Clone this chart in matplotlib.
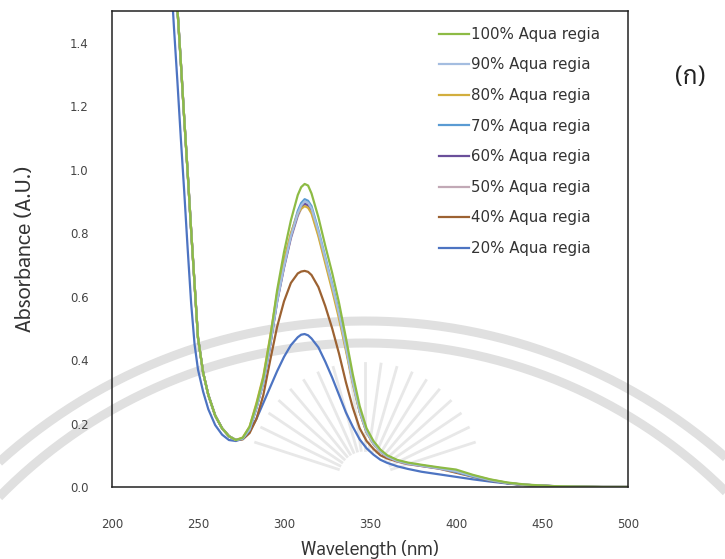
import matplotlib
matplotlib.use("Agg")
import matplotlib.pyplot as plt
import numpy as np

# wavelength grid (nm) shared by all spectra
wavelength = [232, 236, 238, 240, 242, 244, 246, 248, 250, 253, 256, 260, 264, 268, 272,
              276, 280, 284, 288, 292, 296, 300, 304, 308, 310, 312, 314, 316, 320, 324,
              328, 332, 336, 340, 344, 348, 352, 356, 360, 366, 372, 380, 390, 400, 410,
              420, 430, 440, 455, 470, 485, 500]

# absorbance for each aqua regia concentration
abs_100 = [2.05, 1.68, 1.51, 1.34, 1.16, 0.99, 0.81, 0.64, 0.47, 0.36, 0.29, 0.225, 0.185, 0.16, 0.148,
           0.155, 0.19, 0.26, 0.345, 0.47, 0.62, 0.74, 0.84, 0.92, 0.945, 0.955, 0.95, 0.925, 0.85, 0.76,
           0.675, 0.58, 0.47, 0.355, 0.255, 0.185, 0.145, 0.118, 0.10, 0.085, 0.077, 0.07, 0.062, 0.055, 0.038,
           0.024, 0.014, 0.008, 0.003, 0.001, 0.0, 0.0]
abs_90 = [2.05, 1.68, 1.51, 1.34, 1.16, 0.99, 0.81, 0.64, 0.47, 0.36, 0.29, 0.225, 0.185, 0.16, 0.148,
          0.153, 0.182, 0.25, 0.33, 0.45, 0.585, 0.695, 0.79, 0.862, 0.887, 0.90, 0.895, 0.878, 0.805, 0.72,
          0.635, 0.545, 0.44, 0.33, 0.238, 0.174, 0.137, 0.112, 0.096, 0.082, 0.074, 0.067, 0.059, 0.05, 0.035,
          0.022, 0.013, 0.007, 0.003, 0.001, 0.0, 0.0]
abs_80 = [2.05, 1.68, 1.51, 1.34, 1.16, 0.99, 0.81, 0.64, 0.47, 0.36, 0.29, 0.225, 0.185, 0.16, 0.148,
          0.156, 0.19, 0.265, 0.35, 0.475, 0.61, 0.715, 0.80, 0.862, 0.877, 0.885, 0.88, 0.862, 0.79, 0.705,
          0.62, 0.53, 0.43, 0.325, 0.235, 0.172, 0.136, 0.112, 0.097, 0.083, 0.075, 0.068, 0.06, 0.051, 0.036,
          0.023, 0.013, 0.007, 0.003, 0.001, 0.0, 0.0]
abs_70 = [2.05, 1.68, 1.51, 1.34, 1.16, 0.99, 0.81, 0.64, 0.47, 0.36, 0.29, 0.225, 0.185, 0.16, 0.148,
          0.152, 0.18, 0.25, 0.33, 0.45, 0.59, 0.70, 0.795, 0.87, 0.895, 0.907, 0.902, 0.885, 0.81, 0.725,
          0.64, 0.55, 0.445, 0.335, 0.24, 0.175, 0.138, 0.113, 0.097, 0.083, 0.075, 0.068, 0.06, 0.048, 0.033,
          0.021, 0.012, 0.007, 0.003, 0.001, 0.0, 0.0]
abs_60 = [2.05, 1.68, 1.51, 1.34, 1.16, 0.99, 0.81, 0.64, 0.47, 0.36, 0.29, 0.225, 0.185, 0.16, 0.148,
          0.153, 0.182, 0.25, 0.33, 0.448, 0.585, 0.693, 0.787, 0.858, 0.882, 0.893, 0.888, 0.872, 0.80, 0.716,
          0.632, 0.543, 0.44, 0.332, 0.238, 0.174, 0.137, 0.112, 0.096, 0.082, 0.074, 0.067, 0.059, 0.049, 0.034,
          0.021, 0.012, 0.007, 0.003, 0.001, 0.0, 0.0]
abs_50 = [2.05, 1.68, 1.51, 1.34, 1.16, 0.99, 0.81, 0.64, 0.47, 0.36, 0.29, 0.225, 0.185, 0.16, 0.148,
          0.153, 0.182, 0.25, 0.33, 0.447, 0.583, 0.69, 0.783, 0.853, 0.877, 0.888, 0.883, 0.867, 0.795, 0.712,
          0.628, 0.54, 0.437, 0.33, 0.237, 0.173, 0.136, 0.111, 0.095, 0.081, 0.073, 0.066, 0.058, 0.048, 0.034,
          0.021, 0.012, 0.007, 0.003, 0.001, 0.0, 0.0]
abs_40 = [2.05, 1.68, 1.51, 1.34, 1.16, 0.99, 0.81, 0.64, 0.47, 0.36, 0.29, 0.225, 0.185, 0.16, 0.148,
          0.15, 0.17, 0.215, 0.29, 0.40, 0.505, 0.585, 0.643, 0.673, 0.679, 0.681, 0.678, 0.668, 0.63, 0.57,
          0.50, 0.42, 0.33, 0.25, 0.185, 0.145, 0.12, 0.10, 0.09, 0.08, 0.072, 0.066, 0.058, 0.045, 0.032,
          0.02, 0.012, 0.006, 0.003, 0.001, 0.0, 0.0]
abs_20 = [1.82, 1.45, 1.28, 1.10, 0.93, 0.75, 0.58, 0.45, 0.37, 0.30, 0.245, 0.195, 0.165, 0.148, 0.145,
          0.152, 0.175, 0.215, 0.265, 0.315, 0.365, 0.41, 0.447, 0.472, 0.48, 0.482, 0.478, 0.468, 0.44, 0.395,
          0.345, 0.29, 0.235, 0.19, 0.15, 0.122, 0.102, 0.086, 0.076, 0.065, 0.057, 0.048, 0.04, 0.032, 0.024,
          0.017, 0.011, 0.006, 0.003, 0.001, 0.0, 0.0]

labels = ['100% Aqua regia', '90% Aqua regia', '80% Aqua regia', '70% Aqua regia',
          '60% Aqua regia', '50% Aqua regia', '40% Aqua regia', '20% Aqua regia']
series = [abs_100, abs_90, abs_80, abs_70, abs_60, abs_50, abs_40, abs_20]
colors = ['#8dbb45', '#a4bde0', '#d2ae3e', '#5a9bd3', '#6a4f9a', '#c2a9b6', '#9c6232', '#4d74c2']

thai_font = ['Sarabun', 'IBM Plex Sans Thai', 'Anuphan', 'DejaVu Sans']

fig = plt.figure(figsize=(7.25, 5.59), dpi=100)

# faint university seal in the page background
bg = fig.add_axes([0, 0, 1, 1], zorder=0)
bg.set_xlim(0, 725)
bg.set_ylim(559, 0)
bg.axis('off')
t = np.linspace(0, np.pi, 400)
for cx, cy, r in [(365, 866, 545), (365, 855, 512)]:
    bg.plot(cx + r * np.cos(t), cy - r * np.sin(t), color='#e0e0e0', lw=6.5, solid_capstyle='butt')
for a in np.deg2rad(np.arange(18, 163, 8)):
    bg.plot([365 + 28 * np.cos(a), 365 + 115 * np.cos(a)],
            [478 - 28 * np.sin(a), 478 - 115 * np.sin(a)], color='#e8e8e8', lw=2.0)

ax = fig.add_axes([112 / 725, 1 - 487 / 559, 516 / 725, 476 / 559], zorder=1)
ax.patch.set_alpha(0)

# draw from bottom of legend upward so 100% sits on top
for y, c, lab in list(zip(series, colors, labels))[::-1]:
    ax.plot(wavelength, y, color=c, lw=1.6, label=lab)

ax.set_xlim(200, 500)
ax.set_ylim(0, 1.5)
ax.set_xticks([200, 250, 300, 350, 400, 450, 500])
ax.set_yticks([0.0, 0.2, 0.4, 0.6, 0.8, 1.0, 1.2, 1.4])
ax.set_yticklabels(['0.0', '0.2', '0.4', '0.6', '0.8', '1.0', '1.2', '1.4'])
ax.tick_params(length=0, labelsize=8.5, labelcolor='#444444')
ax.tick_params(axis='x', pad=22)
ax.tick_params(axis='y', pad=17)
for s in ax.spines.values():
    s.set_color('#222222')
    s.set_linewidth(1.1)

ax.set_xlabel('Wavelength (nm)', fontsize=13.3, color='#333333', family=thai_font, labelpad=7)
ax.set_ylabel('Absorbance (A.U.)', fontsize=15.5, color='#333333', family=thai_font, labelpad=24)

handles, labs = ax.get_legend_handles_labels()
leg = ax.legend(handles[::-1], labs[::-1], loc='upper left', bbox_to_anchor=(0.607, 0.995),
                frameon=False, fontsize=10.8, handlelength=2.0, handletextpad=0.15,
                labelspacing=1.04)
for tx in leg.get_texts():
    tx.set_color('#333333')

fig.text(690 / 725, 1 - 78 / 559, '(ก)', fontsize=18, ha='center', va='center',
         family=thai_font, color='#222222')

fig.savefig('out.png', dpi=100)
